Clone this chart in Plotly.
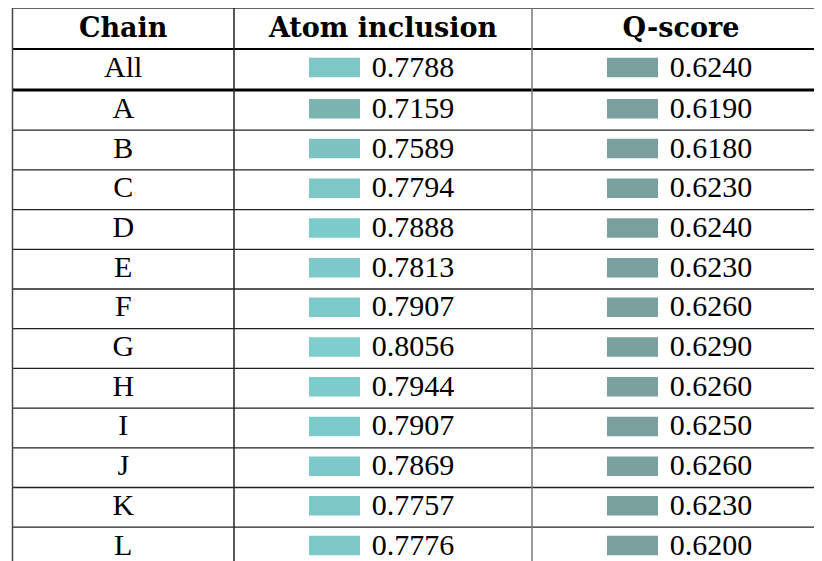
import plotly.graph_objects as go

# table content
headers = ["Chain", "Atom inclusion", "Q-score"]
chains = ["All", "A", "B", "C", "D", "E", "F", "G", "H", "I", "J", "K", "L"]
atom_inclusion = [0.7788, 0.7159, 0.7589, 0.7794, 0.7888, 0.7813, 0.7907,
                  0.8056, 0.7944, 0.7907, 0.7869, 0.7757, 0.7776]
q_score = [0.6240, 0.6190, 0.6180, 0.6230, 0.6240, 0.6230, 0.6260,
           0.6290, 0.6260, 0.6250, 0.6260, 0.6230, 0.6200]

# layout of the table in pixel units (screen coordinates)
W, H = 822, 561
PAD = 8  # page body margin, compensated through the axis ranges
top = 8
header_bottom = 49
all_bottom = 90
pitch = 39.7
col_edges = [12.5, 234, 532, 830]
col_centers = [(a + b) / 2 for a, b in zip(col_edges[:-1], col_edges[1:])]

row_centers = [69] + [all_bottom + pitch / 2 + 0.5 + i * pitch for i in range(len(chains) - 1)]
header_center = (top + header_bottom) / 2 + 2

sw_w, sw_h = 51, 19.5
sw_off = 74   # swatch left edge relative to column centre
txt_off = 30  # value text centre relative to column centre

# colour scale shared by both columns (value -> swatch colour)
cscale = [[0, "rgb(122,155,152)"], [0.53, "rgb(123,181,178)"],
          [0.72, "rgb(124,195,193)"], [0.86, "rgb(125,202,202)"],
          [1, "rgb(127,209,209)"]]
cmin, cmax = 0.60, 0.82

body_font = dict(family="Liberation Serif, serif", size=30, color="black")
head_font = dict(family="DejaVu Serif, serif", size=27, color="black")

fig = go.Figure()

# swatches
for ci, vals in [(1, atom_inclusion), (2, q_score)]:
    fig.add_trace(go.Bar(
        orientation="h",
        y=[r - 1.5 for r in row_centers],
        x=[sw_w] * len(vals),
        base=[col_centers[ci] - sw_off] * len(vals),
        width=sw_h,
        marker=dict(color=vals, colorscale=cscale, cmin=cmin, cmax=cmax, line=dict(width=0)),
        hoverinfo="skip",
        showlegend=False,
    ))

# header text
fig.add_trace(go.Scatter(
    x=col_centers, y=[header_center] * 3, mode="text",
    text=["<b>%s</b>" % h for h in headers],
    textposition="middle center", textfont=head_font,
    hoverinfo="skip", showlegend=False,
))

# chain names
fig.add_trace(go.Scatter(
    x=[col_centers[0]] * len(chains), y=row_centers, mode="text",
    text=chains, textposition="middle center", textfont=body_font,
    hoverinfo="skip", showlegend=False,
))

# values
for ci, vals in [(1, atom_inclusion), (2, q_score)]:
    fig.add_trace(go.Scatter(
        x=[col_centers[ci] + txt_off] * len(vals), y=row_centers, mode="text",
        text=["%.4f" % v for v in vals], textposition="middle center",
        textfont=body_font, hoverinfo="skip", showlegend=False,
    ))

# rules
shapes = []
def hline(y, w, color="black"):
    shapes.append(dict(type="line", xref="x", yref="y", x0=col_edges[0], x1=W + 20,
                       y0=y, y1=y, line=dict(color=color, width=w)))

hline(top, 1.5, "#333333")
hline(header_bottom, 2.2)
hline(all_bottom, 3.2)
for i in range(1, len(chains) - 1):
    hline(all_bottom + 0.5 + i * pitch, 1.3, "#222222")

for x, c in zip(col_edges[:3], ["#444444", "#222222", "#777777"]):
    shapes.append(dict(type="line", xref="x", yref="y", x0=x, x1=x,
                       y0=top, y1=H + 20, line=dict(color=c, width=1.5)))

fig.update_layout(
    width=W, height=H,
    margin=dict(l=0, r=0, t=0, b=0),
    paper_bgcolor="white", plot_bgcolor="white",
    barmode="overlay",
    shapes=shapes,
    xaxis=dict(range=[PAD, W + PAD], visible=False, fixedrange=True),
    yaxis=dict(range=[H + PAD, PAD], visible=False, fixedrange=True),
)

fig.write_html("out.html")
